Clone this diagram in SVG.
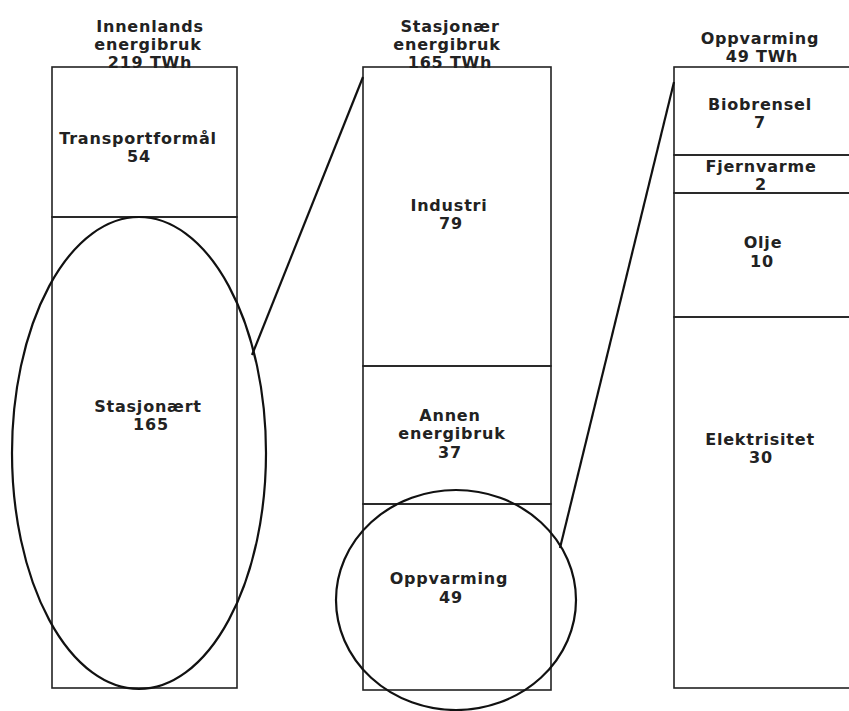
<svg xmlns="http://www.w3.org/2000/svg" width="849" height="711" viewBox="0 0 849 711">
<style>
.box{fill:none;stroke:#222;stroke-width:1.6}
.ring{fill:none;stroke:#111;stroke-width:2.2}
.conn{fill:none;stroke:#111;stroke-width:2.2}
text{font-family:"DejaVu Sans",Verdana,sans-serif;font-weight:bold;font-size:16px;letter-spacing:0.8px;fill:#222;text-anchor:middle}
</style>
<rect width="849" height="711" fill="#fff"/>
<g id="col1-title">
<text x="150" y="32">Innenlands</text>
<text x="148" y="50">energibruk</text>
<text x="150" y="67.5">219 TWh</text>
</g>
<g id="col2-title">
<text x="450" y="32">Stasjonær</text>
<text x="447" y="50">energibruk</text>
<text x="450" y="67.5">165 TWh</text>
</g>
<g id="col3-title">
<text x="760" y="44">Oppvarming</text>
<text x="762" y="61.5">49 TWh</text>
</g>
<g id="transport">
<rect class="box" x="52" y="67" width="185" height="150"/>
<text x="138" y="144">Transportformål</text>
<text x="139" y="162">54</text>
</g>
<g id="stasjonaert">
<rect class="box" x="52" y="217" width="185" height="471"/>
<text x="148" y="412">Stasjonært</text>
<text x="151" y="429.5">165</text>
</g>
<g id="industri">
<rect class="box" x="363" y="67" width="188" height="299"/>
<text x="449" y="211">Industri</text>
<text x="451" y="228.5">79</text>
</g>
<g id="annen">
<rect class="box" x="363" y="366" width="188" height="138"/>
<text x="450" y="421">Annen</text>
<text x="452" y="439">energibruk</text>
<text x="450" y="458">37</text>
</g>
<g id="oppvarming">
<rect class="box" x="363" y="504" width="188" height="186"/>
<text x="449" y="584">Oppvarming</text>
<text x="451" y="603">49</text>
</g>
<g id="biobrensel">
<rect class="box" x="674" y="67" width="185" height="88"/>
<text x="760" y="110">Biobrensel</text>
<text x="760" y="128">7</text>
</g>
<g id="fjernvarme">
<rect class="box" x="674" y="155" width="185" height="38"/>
<text x="761" y="172">Fjernvarme</text>
<text x="761" y="190">2</text>
</g>
<g id="olje">
<rect class="box" x="674" y="193" width="185" height="124"/>
<text x="763" y="248">Olje</text>
<text x="762" y="267">10</text>
</g>
<g id="elektrisitet">
<rect class="box" x="674" y="317" width="185" height="371"/>
<text x="760" y="445">Elektrisitet</text>
<text x="761" y="462.5">30</text>
</g>
<g id="highlight-stasjonaert">
<ellipse class="ring" cx="139" cy="453" rx="127" ry="236"/>
</g>
<g id="highlight-oppvarming">
<ellipse class="ring" cx="456" cy="600" rx="120" ry="110"/>
</g>
<g id="connectors">
<line class="conn" x1="252" y1="355" x2="363" y2="77"/>
<line class="conn" x1="560" y1="548" x2="674" y2="82"/>
</g>
</svg>
